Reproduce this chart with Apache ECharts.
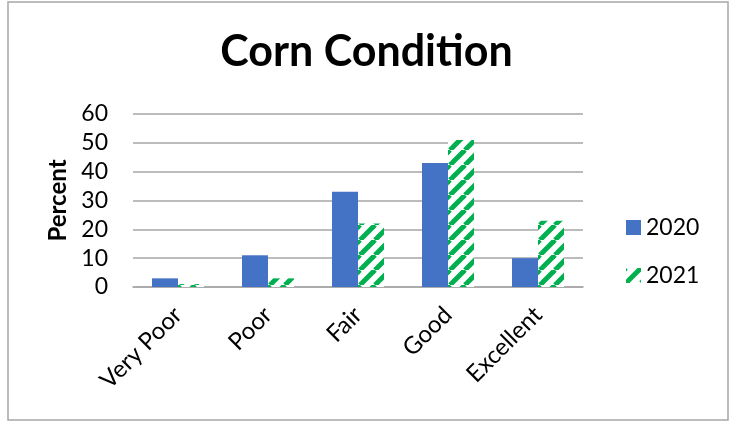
<!DOCTYPE html>
<html>
<head>
<meta charset="utf-8">
<script src="https://cdn.jsdelivr.net/npm/echarts@6/dist/echarts.min.js"></script>
<style>
  html, body { margin: 0; padding: 0; background: #fff; }
  #main { width: 733px; height: 422px; }
</style>
</head>
<body>
<div id="main"></div>
<script>
var categories = ['Very Poor', 'Poor', 'Fair', 'Good', 'Excellent'];
var data2020 = [3, 11, 33, 43, 10];
var data2021 = [1, 3, 22, 51, 23];
var seriesNames = ['2020', '2021'];

// green upward-diagonal stripes on white, like the Excel pattern fill
function makeStripes() {
    var p = 15;
    var c = document.createElement('canvas');
    c.width = p; c.height = p;
    var ctx = c.getContext('2d');
    ctx.fillStyle = '#ffffff';
    ctx.fillRect(0, 0, p, p);
    ctx.strokeStyle = '#00b050';
    ctx.lineWidth = 5;
    for (var k = -1; k <= 1; k++) {
        ctx.beginPath();
        ctx.moveTo(k * p, p);
        ctx.lineTo(k * p + p, 0);
        ctx.stroke();
    }
    return c;
}

var myChart = echarts.init(document.getElementById('main'));
var font = 'Lato, "Open Sans", sans-serif';

var option = {
    animation: false,
    backgroundColor: '#fff',
    title: {
        // zero-width non-joiner keeps Lato from drawing the "ti" ligature
        text: 'Corn Condi\u200Ction',
        left: 'center',
        top: 26,
        textStyle: { fontFamily: font, fontSize: 43, fontWeight: 'bold', color: '#000' }
    },
    graphic: [{
        type: 'rect',
        shape: { x: 8, y: 2, width: 720, height: 418 },
        style: { fill: 'none', stroke: '#a6a6a6', lineWidth: 1.5 },
        silent: true
    }],
    legend: {
        orient: 'vertical',
        left: 621,
        top: 211,
        itemWidth: 15,
        itemHeight: 15,
        itemGap: 25,
        icon: 'rect',
        data: seriesNames,
        textStyle: { fontFamily: font, fontSize: 23, color: '#000', padding: [0, 0, 0, 0] }
    },
    grid: { left: 133, right: 150, top: 114, bottom: 135 },
    xAxis: {
        type: 'category',
        data: categories,
        axisLine: { lineStyle: { color: '#a6a6a6', width: 1.5 } },
        axisTick: { length: 7, lineStyle: { color: '#a6a6a6', width: 1.5 } },
        axisLabel: { rotate: 45, margin: 24, fontFamily: font, fontSize: 24, color: '#000', interval: 0 }
    },
    yAxis: {
        type: 'value',
        min: 0, max: 60, interval: 10,
        name: 'Percent',
        nameLocation: 'middle',
        nameGap: 62,
        nameTextStyle: { fontFamily: font, fontSize: 24, fontWeight: 'bold', color: '#000' },
        axisLine: { show: false },
        axisTick: { show: false },
        axisLabel: { margin: 25, fontFamily: font, fontSize: 23, color: '#000' },
        splitLine: { lineStyle: { color: '#a6a6a6', width: 1.5 } }
    },
    series: [
        {
            name: seriesNames[0],
            type: 'bar',
            data: data2020,
            barWidth: 26,
            barGap: '0%',
            itemStyle: { color: '#4472c4' }
        },
        {
            name: seriesNames[1],
            type: 'bar',
            data: data2021,
            barWidth: 26,
            itemStyle: { color: { image: makeStripes(), repeat: 'repeat' } }
        }
    ]
};
myChart.setOption(option);
</script>
</body>
</html>
